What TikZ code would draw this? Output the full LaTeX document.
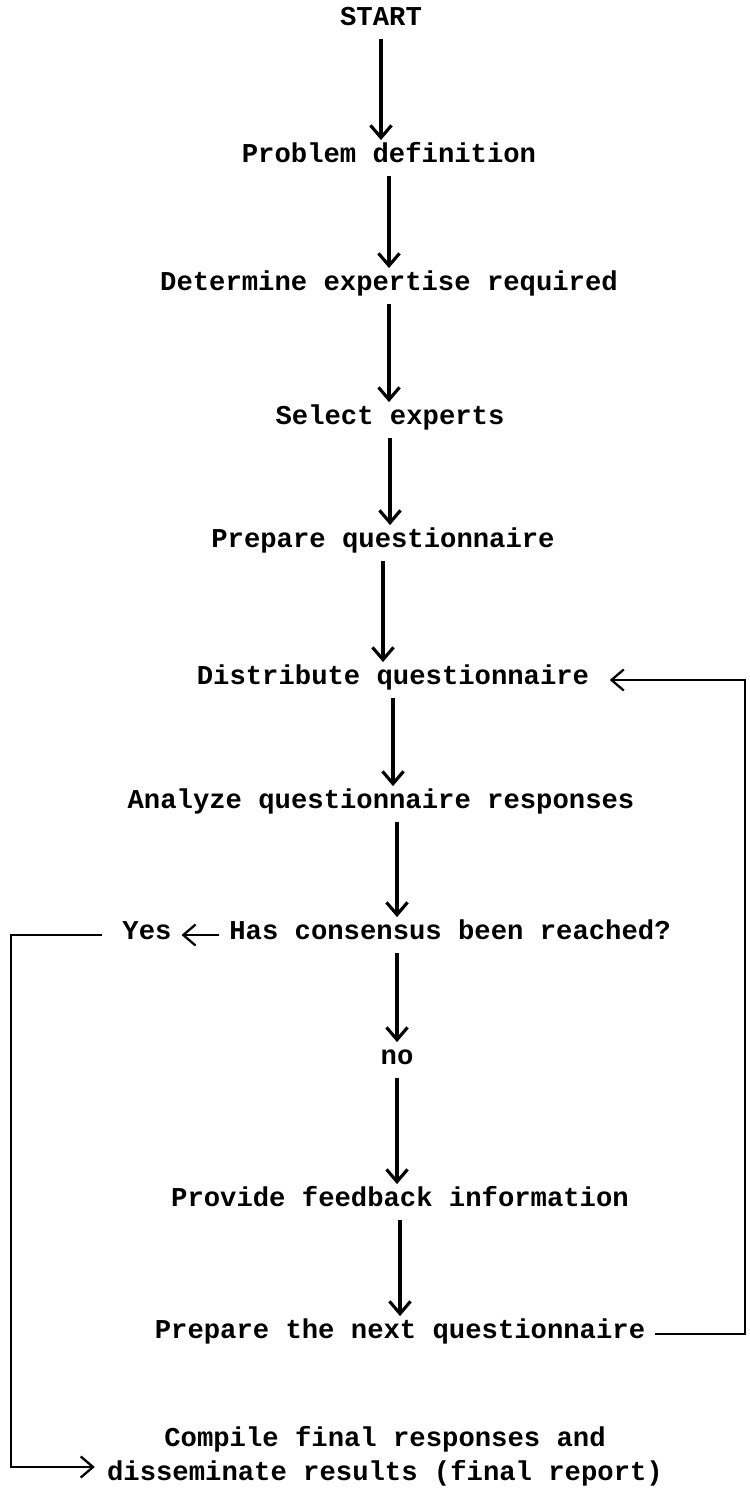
\documentclass[tikz,border=0pt]{standalone}
\usepackage{fontspec}
\setmainfont{Liberation Mono}
\usetikzlibrary{arrows.meta,%
	calc}

\begin{document}
\begin{tikzpicture}

		\useasboundingbox (0,0) rectangle (14.98,-29.86);

		\tikzset{StepStyle/.style =
				{inner xsep=5.5pt, inner ysep=5pt,
				 font=\fontsize{15.5}{19.4}\selectfont\bfseries,
				 text height=0.75em, text depth=0.25em}
		}
		\tikzset{EdgeStyle/.style =
				{line width=1.8pt, -{Straight Barb[length=7pt,width=12pt]}}
		}
		\tikzset{LoopStyle/.style = {EdgeStyle, line width=1.3pt}}

		%steps
		\node[StepStyle] (start) at (7.62,-0.42) {START};
		\node[StepStyle] (prob) at (7.78,-3.16) {Problem definition};
		\node[StepStyle] (expert) at (7.78,-5.72) {Determine expertise required};
		\node[StepStyle] (select) at (7.80,-8.40) {Select experts};
		\node[StepStyle] (prep) at (7.66,-10.86) {Prepare questionnaire};
		\node[StepStyle] (distr) at (7.86,-13.60) {Distribute questionnaire};
		\node[StepStyle] (analyze) at (7.62,-16.08) {Analyze questionnaire responses};
		\node[StepStyle] (consensus) at (9.00,-18.70) {Has consensus been reached?};
		\node[StepStyle] (yes) at (2.94,-18.70) {Yes};
		\node[StepStyle] (no) at (7.94,-21.20) {no};
		\node[StepStyle] (provide) at (8.00,-24.04) {Provide feedback information};
		\node[StepStyle] (prepnext) at (8.00,-26.68) {Prepare the next questionnaire};
		\node[inner sep=0pt, align=center,
			font=\fontsize{15.5}{19.4}\selectfont\bfseries] (compile) at (7.70,-29.12)
			{Compile final responses and\\disseminate results (final report)};

		%flow
		\draw[EdgeStyle] (start) -- (start |- prob.north);
		\draw[EdgeStyle] (prob) -- (prob |- expert.north);
		\draw[EdgeStyle] (expert) -- (expert |- select.north);
		\draw[EdgeStyle] (select) -- (select |- prep.north);
		\draw[EdgeStyle] (prep) -- (prep |- distr.north);
		\draw[EdgeStyle] (distr) -- (distr |- analyze.north);
		\draw[EdgeStyle] (analyze.south -| no) -- (consensus.north -| no);
		\draw[EdgeStyle] (consensus.south -| no) -- (no);
		\draw[EdgeStyle] (no) -- (no |- provide.north);
		\draw[EdgeStyle] (provide) -- (provide |- prepnext.north);

		%yesBranch
		\coordinate (lft) at (0.22,-18.70);
		\draw[LoopStyle] (consensus) -- (yes);
		\draw[LoopStyle, shorten <=6pt] (yes.west) -- (yes.west -| lft)
			|- ([xshift=-0.24cm, yshift=-0.22cm]compile.west);

		%feedbackLoop
		\coordinate (rgt) at (14.90,-26.68);
		\draw[LoopStyle, shorten >=6pt] (prepnext.east) -- (prepnext.east -| rgt)
			|- (distr.east);

	\end{tikzpicture}
\end{document}
